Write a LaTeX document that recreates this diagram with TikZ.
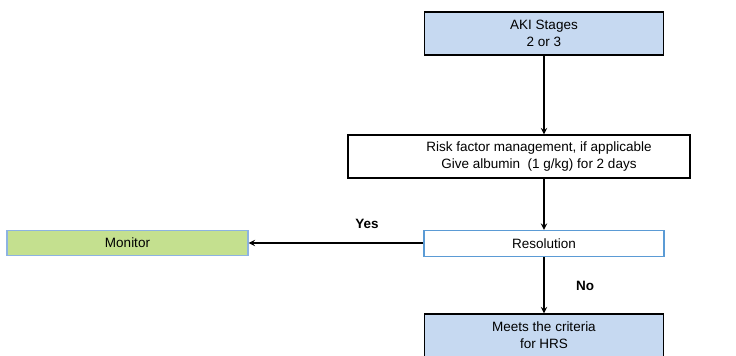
\documentclass[tikz,border=0pt]{standalone}
\usepackage{fontspec}
\setmainfont{Liberation Sans}
\definecolor{stageblue}{HTML}{C6D9F1}
\definecolor{monitorgreen}{HTML}{C4E08F}
\definecolor{edgeblue}{HTML}{5B9BD5}
\definecolor{paleedge}{HTML}{8DB3E2}

\begin{document}
\begin{tikzpicture}[x=0.025cm, y=-0.025cm, >=stealth,
  every node/.style = {align=center, font=\fontsize{9.6}{12}\selectfont},
  stagebox/.style = {shape=rectangle, draw=black, line width=1pt,
    fill=stageblue, minimum width=5.975cm, minimum height=1.075cm},
  plainbox/.style = {shape=rectangle, draw=black, line width=1pt,
    fill=white, minimum width=8.55cm, minimum height=1.075cm},
  checkbox/.style = {shape=rectangle, draw=edgeblue, line width=1pt,
    fill=white, minimum width=6cm, minimum height=0.65cm},
  greenbox/.style = {shape=rectangle, draw=paleedge, line width=0.9pt,
    fill=monitorgreen, minimum width=6.025cm, minimum height=0.625cm},
  answer/.style = {font=\fontsize{9.6}{12}\selectfont\bfseries},
  flow/.style = {->, line width=1pt}]
    \useasboundingbox (0,0) rectangle (736,355);
    \clip (0,0) rectangle (736,355);
    \node[stagebox] (aki) at (544,33.5) {AKI Stages \\ 2 or 3};
    \node[plainbox] (risk) at (519,156.5) {};
    \node (risktext) at (539,156.5) {Risk factor management, if applicable \\
      Give albumin~ (1 g/kg) for 2 days};
    \node[checkbox] (res) at (544,243.5) {Resolution};
    \node[greenbox] (mon) at (127.5,243) {Monitor};
    \node[stagebox] (hrs) at (544,335.5) {Meets the criteria \\ for HRS};
    \node[answer] (yes) at (367,224) {Yes};
    \node[answer] (no) at (585,286) {No};
    \draw[flow] (aki.south) -- (aki.south |- risk.north);
    \draw[flow] (res.north |- risk.south) -- (res.north);
    \draw[flow] (res.west |- mon.east) -- (mon.east);
    \draw[flow] (res.south) -- (hrs.north);
\end{tikzpicture}
\end{document}
